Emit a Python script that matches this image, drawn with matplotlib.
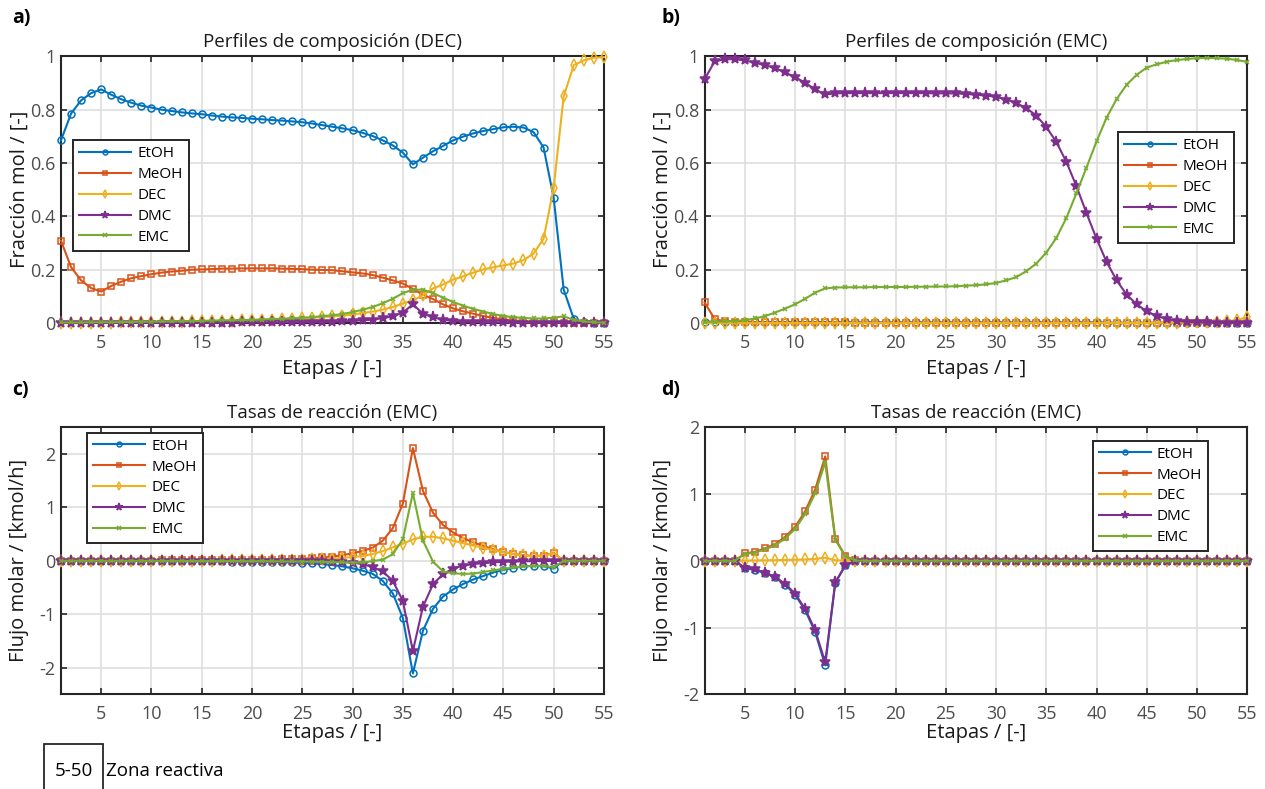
import numpy as np
import matplotlib
matplotlib.use("Agg")
import matplotlib.pyplot as plt
from matplotlib.patches import Rectangle
from matplotlib.ticker import FuncFormatter

# ── Style ───────────────────────────────────────────────────────────────
plt.rcParams["font.family"] = ["Open Sans", "DejaVu Sans"]
plt.rcParams["axes.unicode_minus"] = False

COLORS  = ["#0072BD", "#D95319", "#EDB120", "#7E2F8E", "#77AC30"]
MARKERS = ["o", "s", "d", "*", "x"]
MSIZES  = [5.0, 5.0, 5.8, 8.0, 3.5]
NAMES   = ["EtOH", "MeOH", "DEC", "DMC", "EMC"]

etapas = np.arange(1, 56)

# ── a) composition profiles, DEC column ────────────────────────────────
etoh_a = [0.685, 0.785, 0.835, 0.862, 0.876, 0.856, 0.839, 0.826, 0.815, 0.808,
          0.800, 0.795, 0.790, 0.786, 0.783, 0.778, 0.774, 0.771, 0.769, 0.766,
          0.764, 0.761, 0.759, 0.756, 0.753, 0.748, 0.742, 0.736, 0.730, 0.723,
          0.713, 0.701, 0.685, 0.666, 0.639, 0.595, 0.620, 0.644, 0.664, 0.685,
          0.699, 0.711, 0.720, 0.727, 0.734, 0.736, 0.733, 0.716, 0.658, 0.470,
          0.125, 0.016, 0.003, 0.001, 0.000]
meoh_a = [0.309, 0.210, 0.160, 0.131, 0.118, 0.139, 0.155, 0.168, 0.176, 0.183,
          0.189, 0.193, 0.196, 0.200, 0.201, 0.202, 0.204, 0.204, 0.205, 0.205,
          0.205, 0.205, 0.204, 0.203, 0.202, 0.200, 0.199, 0.198, 0.194, 0.190,
          0.186, 0.180, 0.170, 0.160, 0.148, 0.128, 0.106, 0.090, 0.070, 0.055,
          0.044, 0.035, 0.026, 0.019, 0.014, 0.010, 0.007, 0.005, 0.003, 0.002,
          0.001, 0.000, 0.000, 0.000, 0.000]
dec_a  = [0.000, 0.000, 0.000, 0.001, 0.001, 0.001, 0.002, 0.002, 0.003, 0.003,
          0.004, 0.004, 0.005, 0.006, 0.006, 0.007, 0.008, 0.009, 0.010, 0.011,
          0.012, 0.013, 0.015, 0.016, 0.018, 0.020, 0.022, 0.025, 0.028, 0.032,
          0.037, 0.043, 0.050, 0.060, 0.073, 0.085, 0.104, 0.130, 0.144, 0.163,
          0.175, 0.189, 0.201, 0.209, 0.216, 0.223, 0.236, 0.260, 0.316, 0.506,
          0.850, 0.967, 0.985, 0.995, 0.997]
dmc_a  = [0.000, 0.000, 0.000, 0.000, 0.000, 0.001, 0.001, 0.001, 0.001, 0.001,
          0.001, 0.001, 0.001, 0.001, 0.001, 0.001, 0.001, 0.001, 0.002, 0.002,
          0.002, 0.002, 0.002, 0.003, 0.003, 0.004, 0.004, 0.005, 0.006, 0.008,
          0.010, 0.013, 0.018, 0.025, 0.039, 0.070, 0.035, 0.022, 0.012, 0.008,
          0.005, 0.004, 0.003, 0.002, 0.002, 0.001, 0.001, 0.001, 0.001, 0.001,
          0.000, 0.000, 0.000, 0.000, 0.000]
emc_a  = [0.002, 0.002, 0.002, 0.003, 0.003, 0.003, 0.004, 0.004, 0.005, 0.005,
          0.006, 0.006, 0.007, 0.007, 0.008, 0.009, 0.010, 0.010, 0.011, 0.012,
          0.013, 0.015, 0.016, 0.018, 0.020, 0.022, 0.026, 0.029, 0.034, 0.041,
          0.050, 0.060, 0.074, 0.091, 0.112, 0.125, 0.125, 0.112, 0.095, 0.079,
          0.065, 0.053, 0.043, 0.034, 0.026, 0.022, 0.019, 0.017, 0.017, 0.020,
          0.025, 0.012, 0.006, 0.003, 0.001]

# ── b) composition profiles, EMC column ────────────────────────────────
etoh_b = [0.005, 0.004, 0.004, 0.003, 0.003, 0.003, 0.003, 0.003, 0.003, 0.003,
          0.003, 0.003, 0.004, 0.002, 0.002, 0.002, 0.002, 0.002, 0.002, 0.002,
          0.002, 0.002, 0.002, 0.002, 0.002, 0.002, 0.002, 0.002, 0.002, 0.002,
          0.002, 0.002, 0.002, 0.002, 0.002, 0.002, 0.002, 0.002, 0.002, 0.002,
          0.001, 0.001, 0.001, 0.001, 0.001, 0.001, 0.001, 0.001, 0.001, 0.001,
          0.001, 0.001, 0.001, 0.001, 0.001]
meoh_b = [0.077, 0.015, 0.006, 0.004, 0.003, 0.002, 0.002, 0.002, 0.002, 0.002,
          0.002, 0.002, 0.002, 0.002, 0.002, 0.001, 0.001, 0.001, 0.001, 0.001,
          0.001, 0.001, 0.001, 0.001, 0.001, 0.001, 0.001, 0.001, 0.001, 0.001,
          0.001, 0.001, 0.001, 0.001, 0.001, 0.001, 0.001, 0.001, 0.001, 0.001,
          0.000, 0.000, 0.000, 0.000, 0.000, 0.000, 0.000, 0.000, 0.000, 0.000,
          0.000, 0.000, 0.000, 0.000, 0.000]
dec_b  = [0.000, 0.000, 0.000, 0.000, 0.000, 0.000, 0.000, 0.000, 0.000, 0.000,
          0.000, 0.000, 0.000, 0.000, 0.000, 0.000, 0.000, 0.000, 0.000, 0.000,
          0.000, 0.000, 0.000, 0.000, 0.000, 0.000, 0.000, 0.000, 0.000, 0.000,
          0.000, 0.000, 0.000, 0.000, 0.000, 0.000, 0.000, 0.000, 0.000, 0.000,
          0.000, 0.000, 0.000, 0.000, 0.000, 0.001, 0.001, 0.001, 0.002, 0.002,
          0.003, 0.004, 0.006, 0.011, 0.022]
dmc_b  = [0.914, 0.981, 0.989, 0.989, 0.985, 0.976, 0.967, 0.956, 0.940, 0.922,
          0.901, 0.876, 0.857, 0.861, 0.862, 0.862, 0.862, 0.862, 0.862, 0.862,
          0.862, 0.862, 0.862, 0.861, 0.861, 0.861, 0.859, 0.856, 0.853, 0.848,
          0.838, 0.825, 0.806, 0.778, 0.735, 0.679, 0.604, 0.513, 0.412, 0.316,
          0.229, 0.160, 0.106, 0.070, 0.044, 0.026, 0.015, 0.008, 0.005, 0.003,
          0.002, 0.001, 0.001, 0.001, 0.001]
emc_b  = [0.005, 0.005, 0.006, 0.008, 0.010, 0.017, 0.026, 0.039, 0.054, 0.070,
          0.091, 0.114, 0.130, 0.133, 0.134, 0.134, 0.134, 0.135, 0.135, 0.135,
          0.135, 0.136, 0.136, 0.137, 0.137, 0.138, 0.140, 0.142, 0.145, 0.150,
          0.160, 0.172, 0.194, 0.223, 0.264, 0.319, 0.394, 0.487, 0.583, 0.681,
          0.770, 0.840, 0.894, 0.931, 0.958, 0.970, 0.980, 0.986, 0.990, 0.993,
          0.994, 0.993, 0.991, 0.986, 0.979]

# ── c) reaction rates, DEC column ──────────────────────────────────────
etoh_c = [-0.001, -0.001, -0.002, -0.002, -0.003, -0.003, -0.004, -0.004, -0.005, -0.005,
          -0.006, -0.007, -0.008, -0.009, -0.010, -0.011, -0.012, -0.014, -0.015, -0.017,
          -0.019, -0.022, -0.026, -0.031, -0.038, -0.048, -0.062, -0.080, -0.105, -0.140,
          -0.185, -0.245, -0.375, -0.610, -1.070, -2.110, -1.310, -0.900, -0.670, -0.535,
          -0.435, -0.350, -0.285, -0.220, -0.170, -0.135, -0.105, -0.095, -0.100, -0.145,
          0.000, 0.000, 0.000, 0.000, 0.000]
meoh_c = [0.001, 0.001, 0.002, 0.002, 0.003, 0.003, 0.004, 0.004, 0.005, 0.005,
          0.006, 0.007, 0.008, 0.009, 0.010, 0.011, 0.012, 0.014, 0.015, 0.017,
          0.019, 0.022, 0.026, 0.031, 0.038, 0.048, 0.062, 0.080, 0.105, 0.140,
          0.185, 0.245, 0.375, 0.610, 1.070, 2.110, 1.310, 0.900, 0.670, 0.530,
          0.425, 0.345, 0.280, 0.215, 0.165, 0.130, 0.105, 0.090, 0.095, 0.150,
          0.000, 0.000, 0.000, 0.000, 0.000]
dec_c  = [0.000, 0.000, 0.000, 0.001, 0.001, 0.001, 0.001, 0.002, 0.002, 0.002,
          0.003, 0.003, 0.004, 0.004, 0.005, 0.005, 0.006, 0.006, 0.007, 0.008,
          0.010, 0.012, 0.015, 0.018, 0.022, 0.027, 0.033, 0.042, 0.053, 0.068,
          0.090, 0.125, 0.180, 0.250, 0.320, 0.400, 0.450, 0.450, 0.420, 0.375,
          0.330, 0.285, 0.245, 0.200, 0.160, 0.125, 0.100, 0.085, 0.090, 0.145,
          0.000, 0.000, 0.000, 0.000, 0.000]
dmc_c  = [0.000, 0.000, 0.000, 0.000, 0.000, -0.001, -0.001, -0.001, -0.001, -0.001,
          -0.001, -0.001, -0.001, -0.002, -0.002, -0.002, -0.002, -0.002, -0.003, -0.003,
          -0.003, -0.004, -0.005, -0.006, -0.008, -0.010, -0.013, -0.018, -0.025, -0.035,
          -0.060, -0.120, -0.200, -0.375, -0.750, -1.690, -0.860, -0.440, -0.250, -0.145,
          -0.090, -0.060, -0.045, -0.030, -0.020, -0.014, -0.010, -0.007, -0.005, -0.004,
          0.000, 0.000, 0.000, 0.000, 0.000]
emc_c  = [0.000, 0.000, 0.000, -0.001, -0.001, -0.001, -0.001, -0.001, -0.001, -0.001,
          -0.002, -0.002, -0.003, -0.003, -0.003, -0.004, -0.004, -0.005, -0.005, -0.006,
          -0.007, -0.008, -0.010, -0.012, -0.014, -0.017, -0.020, -0.024, -0.028, -0.033,
          -0.030, -0.005, 0.020, 0.125, 0.400, 1.270, 0.380, -0.015, -0.200, -0.235,
          -0.245, -0.240, -0.210, -0.180, -0.150, -0.125, -0.105, -0.095, -0.095, -0.120,
          0.000, 0.000, 0.000, 0.000, 0.000]

# ── d) reaction rates, EMC column ──────────────────────────────────────
etoh_d = [0.0, 0.0, 0.0, 0.0, -0.110, -0.134, -0.184, -0.248, -0.357, -0.506,
          -0.740, -1.067, -1.567, -0.333, -0.070, -0.005] + [0.0] * 39
meoh_d = [0.0, 0.0, 0.0, 0.0, 0.110, 0.134, 0.184, 0.248, 0.357, 0.506,
          0.740, 1.067, 1.563, 0.333, 0.070, 0.005] + [0.0] * 39
dec_d  = [0.0, 0.0, 0.0, 0.0, 0.003, 0.005, 0.007, 0.009, 0.012, 0.015,
          0.020, 0.028, 0.045, 0.008, 0.002, 0.000] + [0.0] * 39
dmc_d  = [0.0, 0.0, 0.0, 0.0, -0.104, -0.129, -0.177, -0.239, -0.345, -0.491,
          -0.720, -1.039, -1.520, -0.325, -0.068, -0.005] + [0.0] * 39
emc_d  = [0.0, 0.0, 0.0, 0.0, 0.101, 0.124, 0.170, 0.230, 0.333, 0.476,
          0.700, 1.011, 1.473, 0.317, 0.066, 0.005] + [0.0] * 39

# ── Figure ──────────────────────────────────────────────────────────────
fig = plt.figure(figsize=(12.65, 7.89), dpi=100)

panels = [
    # (rect, series, title, ylabel, ylim, yticks, legend loc, legend anchor, label, label pos)
    ([0.0482, 0.5906, 0.4292, 0.3380], [etoh_a, meoh_a, dec_a, dmc_a, emc_a],
     "Perfiles de composición (DEC)", "Fracción mol / [-]", (0, 1),
     [0, 0.2, 0.4, 0.6, 0.8, 1], "upper left", (0.022, 0.685), "a)", (0.0095, 0.977)),
    ([0.5570, 0.5906, 0.4290, 0.3380], [etoh_b, meoh_b, dec_b, dmc_b, emc_b],
     "Perfiles de composición (EMC)", "Fracción mol / [-]", (0, 1),
     [0, 0.2, 0.4, 0.6, 0.8, 1], "upper right", (0.975, 0.715), "b)", (0.523, 0.977)),
    ([0.0482, 0.1200, 0.4292, 0.3385], [etoh_c, meoh_c, dec_c, dmc_c, emc_c],
     "Tasas de reacción (EMC)", "Flujo molar / [kmol/h]", (-2.5, 2.5),
     [-2, -1, 0, 1, 2], "upper left", (0.048, 0.98), "c)", (0.0095, 0.506)),
    ([0.5570, 0.1200, 0.4290, 0.3385], [etoh_d, meoh_d, dec_d, dmc_d, emc_d],
     "Tasas de reacción (EMC)", "Flujo molar / [kmol/h]", (-2, 2),
     [-2, -1, 0, 1, 2], "upper right", (0.928, 0.95), "d)", (0.523, 0.506)),
]

for i, (rect, series, title, ylabel, ylim, yticks, loc, anchor, tag, tagpos) in enumerate(panels):
    ax = fig.add_axes(rect)
    for vals, c, m, ms, name in zip(series, COLORS, MARKERS, MSIZES, NAMES):
        filled = c if m in ("*", "x") else "none"
        ax.plot(etapas, vals, color=c, lw=1.5, marker=m, ms=ms, mfc=filled,
                mec=c, mew=1.1, label=name, clip_on=False, zorder=3)

    ax.set_xlim(1, 55)
    ax.set_ylim(*ylim)
    ax.set_xticks(np.arange(5, 56, 5))
    ax.set_yticks(yticks)
    ax.yaxis.set_major_formatter(FuncFormatter(lambda v, p: f"{v:g}"))
    ax.grid(True, color="#dedede", lw=1.2, zorder=0)
    ax.set_axisbelow(True)
    ax.tick_params(direction="in", top=True, right=True, length=4, width=1.2,
                   labelsize=13, labelcolor="#4d4d4d", color="#262626")
    ax.tick_params(axis="x", pad=8)
    ax.tick_params(axis="y", pad=4)
    for sp in ax.spines.values():
        sp.set_color("#262626")
        sp.set_linewidth(1.5)

    ax.set_title(title, fontsize=13.5, pad=7, color="#1a1a1a")
    ax.set_ylabel(ylabel, fontsize=14.5, color="#1a1a1a")
    ax.yaxis.set_label_coords(-0.058, 0.5)
    ax.set_xlabel("Etapas / [-]", fontsize=14.5, color="#1a1a1a",
                  labelpad=5 if i < 2 else 0)

    leg = ax.legend(loc=loc, bbox_to_anchor=anchor, fontsize=11, frameon=True,
                    fancybox=False, framealpha=1, edgecolor="#262626",
                    handlelength=3.4, handletextpad=0.4, labelspacing=0.38,
                    borderpad=0.4, borderaxespad=0, markerscale=0.7)
    leg.get_frame().set_linewidth(1.4)
    leg.set_zorder(5)

    fig.text(tagpos[0], tagpos[1], tag, fontsize=14, fontweight="bold",
             va="center", ha="left")

# reactive zone note
fig.patches.append(Rectangle((44 / 1265, -0.01), 59 / 1265, (789 - 744) / 789 + 0.01,
                             transform=fig.transFigure, fill=False,
                             edgecolor="#262626", lw=1.3))
fig.text(73.5 / 1265, 1 - 771 / 789, "5-50", fontsize=13.5, ha="center", va="center")
fig.text(106 / 1265, 1 - 771 / 789, "Zona reactiva", fontsize=13.5, ha="left", va="center")

fig.savefig("out.png", dpi=100)
